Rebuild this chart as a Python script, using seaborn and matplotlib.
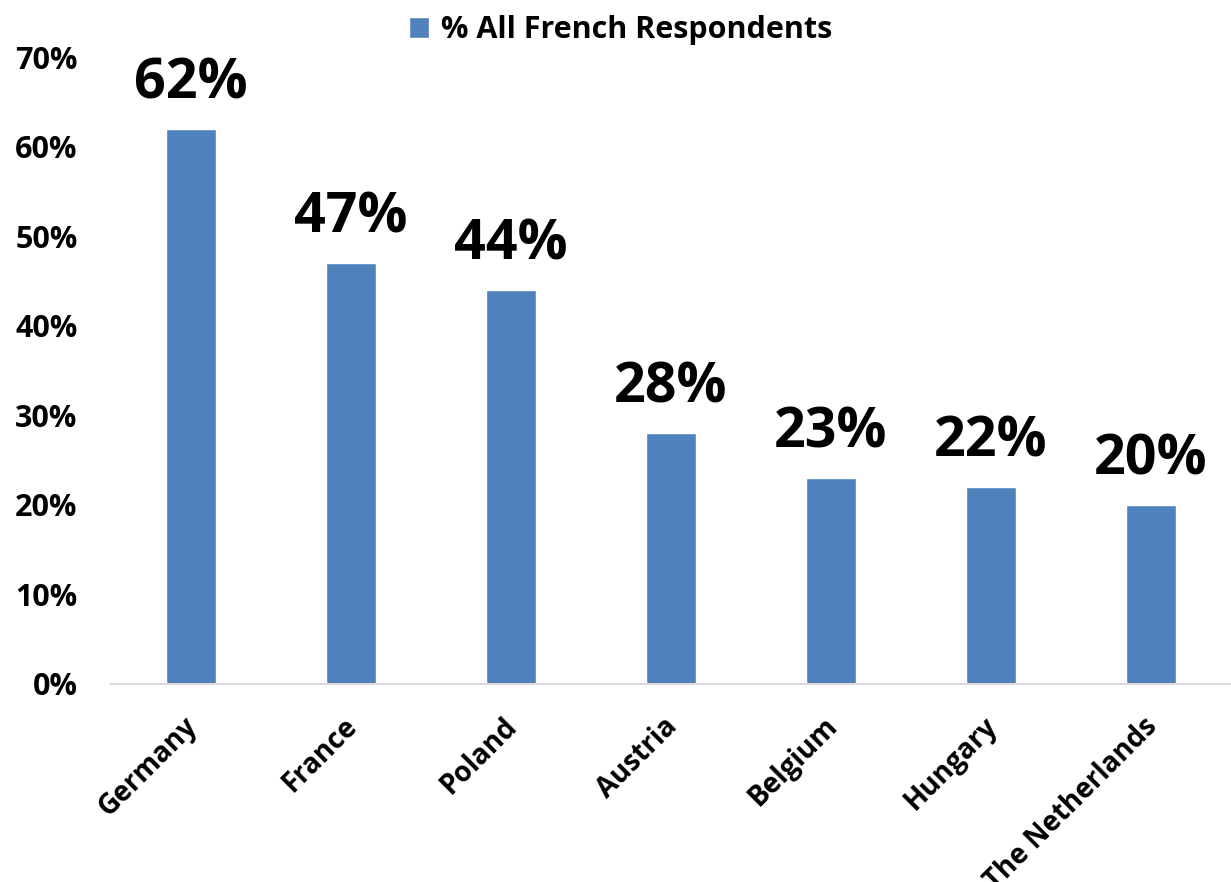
import matplotlib
matplotlib.use("Agg")
import matplotlib.pyplot as plt
import matplotlib.transforms as mtransforms
import seaborn as sns
import pandas as pd
from matplotlib.ticker import FuncFormatter

countries = ["Germany", "France", "Poland", "Austria", "Belgium", "Hungary", "The Netherlands"]
shares = [62, 47, 44, 28, 23, 22, 20]
series_name = "% All French Respondents"

df = pd.DataFrame({"country": countries, "share": shares, "series": series_name})

sns.set_style("white")
plt.rcParams["font.family"] = ["Open Sans", "DejaVu Sans"]
plt.rcParams["text.color"] = "black"
plt.rcParams["xtick.color"] = "black"
plt.rcParams["ytick.color"] = "black"

fig = plt.figure(figsize=(12.31, 8.82), dpi=100)
ax = fig.add_axes([0.090, 0.2245, 0.910, 0.7105])

sns.barplot(data=df, x="country", y="share", hue="series", palette=["#4F81BD"],
            width=0.31, ax=ax, saturation=1)

ax.set_xlim(-0.5, len(countries) - 0.5)
ax.set_ylim(0, 70)
ax.set_yticks(range(0, 71, 10))
ax.yaxis.set_major_formatter(FuncFormatter(lambda v, _: f"{v:.0f}%"))

# data labels above bars
for i, v in enumerate(shares):
    ax.text(i, v + 2, f"{v}%", ha="center", va="bottom", fontsize=40,
            fontweight="bold", clip_on=False)

for s in ["top", "right", "left"]:
    ax.spines[s].set_visible(False)
ax.spines["bottom"].set_color("#d9d9d9")
ax.spines["bottom"].set_linewidth(1.5)

ax.tick_params(axis="both", length=0)
ax.tick_params(axis="y", labelsize=22, pad=24)
plt.setp(ax.get_yticklabels(), fontweight="bold")
ax.set_xticks(range(len(countries)))
ax.set_xticklabels(countries, rotation=45, ha="right", rotation_mode="anchor",
                   fontsize=20, fontweight="bold")
ax.tick_params(axis="x", pad=20)
shift = mtransforms.ScaledTranslation(-8 / 100, 0, fig.dpi_scale_trans)
for lbl in ax.get_xticklabels():
    lbl.set_transform(lbl.get_transform() + shift)
ax.set_xlabel("")
ax.set_ylabel("")

ax.legend(loc="upper left", bbox_to_anchor=(0.247, 1.101), frameon=False,
          prop={"size": 22, "weight": "bold"}, handlelength=0.65, handleheight=0.65,
          handletextpad=0.4, borderpad=0.2)

fig.savefig("out.png", dpi=100)
